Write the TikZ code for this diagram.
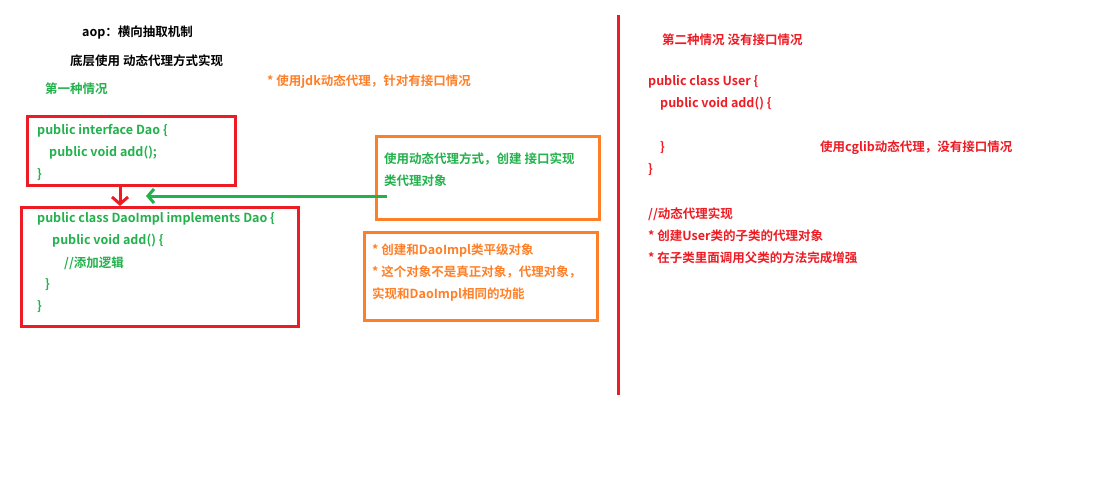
\documentclass[tikz,border=0pt]{standalone}
\usepackage{fontspec}
\setmainfont{Noto Sans CJK SC}[BoldFont={* Bold}]
\usetikzlibrary{arrows.meta}
\definecolor{cgreen}{HTML}{22B14C}
\definecolor{cred}{HTML}{ED1C24}
\definecolor{corange}{HTML}{FF7F27}
\tikzset{
 t/.style={anchor=west,inner sep=0pt,font=\fontsize{12.5}{14}\selectfont\bfseries},
 g/.style={t,text=cgreen}, r/.style={t,text=cred}, o/.style={t,text=corange}, k/.style={t,text=black},
 rbox/.style={draw=cred,line width=3pt},
 obox/.style={draw=corange,line width=3pt}
}
\begin{document}
\begin{tikzpicture}[x=1pt,y=-1pt]
\useasboundingbox (0,0) rectangle (1100,500);
\node[k] (a1) at (82,33) {aop：横向抽取机制};
\node[k] (a2) at (70,61) {底层使用 动态代理方式实现};
\node[g] (a3) at (45,89) {第一种情况};
\node[o] (a4) at (267,82) {* 使用jdk动态代理，针对有接口情况};
\draw[rbox] (27,117) rectangle (235,185);
\coordinate (b1) at (120,185);
\node[g] at (37,131) {public interface Dao \{};
\node[g] at (49,153) {public void add();};
\node[g] at (37,175) {\}};
\draw[rbox] (21,207) rectangle (298,326);
\coordinate (b2) at (120,206);
\node[g] at (37,219) {public class DaoImpl implements Dao \{};
\node[g] at (52,241) {public void add() \{};
\node[g] at (64,263) {//添加逻辑};
\node[g] at (45,285) {\}};
\node[g] at (37,307) {\}};
\draw[cred,line width=3pt,-{Straight Barb[length=7pt,width=16pt]}] (b1) -- (b2);
\draw[obox] (376,137) rectangle (599,219);
\node[g] at (384,159) {使用动态代理方式，创建 接口实现};
\node[g] at (384,181) {类代理对象};
\coordinate (c1) at (387,196);
\coordinate (c2) at (146,196);
\draw[cgreen,line width=3pt,-{Straight Barb[length=6pt,width=14pt]}] (c1) -- (c2);
\draw[obox] (364,232) rectangle (597,320);
\node[o] at (372,250) {* 创建和DaoImpl类平级对象};
\node[o] at (372,272) {* 这个对象不是真正对象，代理对象，};
\node[o] at (372,294) {实现和DaoImpl相同的功能};
\draw[cred,line width=3pt] (618,15) -- (618,395);
\node[r] at (662,40) {第二种情况 没有接口情况};
\node[r] at (648,82) {public class User \{};
\node[r] at (660,104) {public void add() \{};
\node[r] at (660,148) {\}};
\node[r] at (820,148) {使用cglib动态代理，没有接口情况};
\node[r] at (648,170) {\}};
\node[r] at (648,214) {//动态代理实现};
\node[r] at (648,236) {* 创建User类的子类的代理对象};
\node[r] at (648,258) {* 在子类里面调用父类的方法完成增强};
\end{tikzpicture}
\end{document}
